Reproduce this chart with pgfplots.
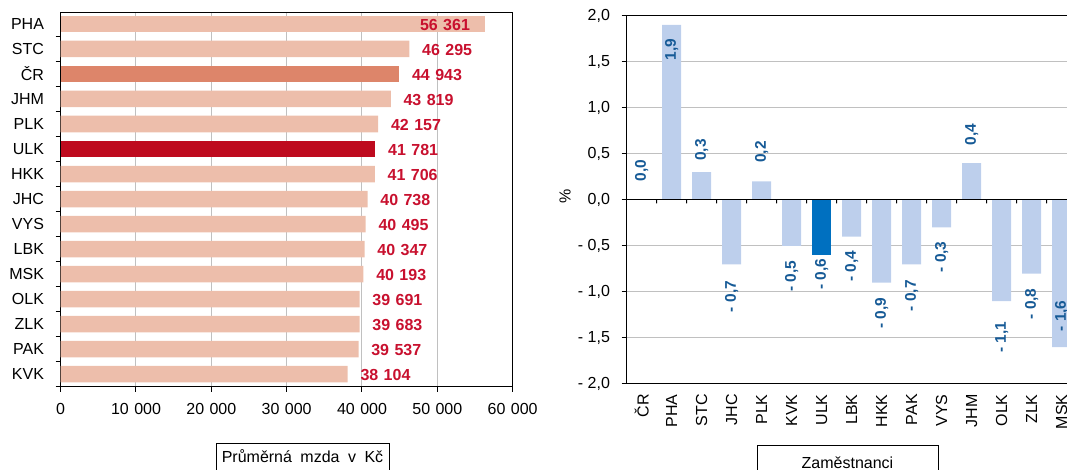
\documentclass[border=0pt]{standalone}
\usepackage{fontspec}
\setmainfont{Liberation Sans}
\usepackage{pgfplots}
\pgfplotsset{compat=1.18}

\definecolor{barlight}{RGB}{237,190,171}
\definecolor{barcr}{RGB}{221,133,106}
\definecolor{barulk}{RGB}{190,10,30}
\definecolor{labred}{RGB}{200,16,46}
\definecolor{bluelight}{RGB}{189,207,236}
\definecolor{blueulk}{RGB}{0,112,192}
\definecolor{labblue}{RGB}{22,90,150}
\definecolor{gridgray}{RGB}{192,192,192}

\newcommand{\tf}{\fontsize{12}{14}\selectfont}
\newcommand{\lf}{\fontsize{11.6}{13}\selectfont}
\DeclareRobustCommand{\sep}{\hspace{0.34em}}

\begin{document}
\begin{tikzpicture}
% left: average wage by region
\begin{axis}[
  at={(45.5pt,62.5pt)}, anchor=south west,
  scale only axis, width=339pt, height=280.5pt,
  xmin=0, xmax=60000, ymin=-0.45, ymax=14.5, y dir=reverse,
  scaled x ticks=false,
  xtick={0,10000,...,60000},
  xticklabels={0,10\sep000,20\sep000,30\sep000,40\sep000,50\sep000,60\sep000},
  ytick={0,...,14},
  yticklabels={PHA,STC,ČR,JHM,PLK,ULK,HKK,JHC,VYS,LBK,MSK,OLK,ZLK,PAK,KVK},
  minor ytick={-0.5,0.5,...,14.5},
  xtick pos=bottom, ytick pos=left,
  tick align=outside,
  major tick length=3.75pt, minor tick length=3.75pt,
  major y tick style={draw=none},
  tick style={black, line width=0.75pt},
  xmajorgrids, major grid style={gridgray, line width=0.75pt},
  axis line style={black, line width=0.75pt},
  ticklabel style={font=\tf, inner sep=0pt},
  xticklabel shift=8.7pt, yticklabel shift=8.6pt,
  nodes near coords style={font=\bfseries\tf, text=labred, inner sep=0pt, yshift=-1pt},
  barl/.style={xbar, bar width=12.4pt, bar shift=0pt, draw=none},
  labout/.style={point meta=x,
    nodes near coords={\pgfmathprintnumber[assume math mode=true,fixed,precision=0,1000 sep={\sep}]{\pgfplotspointmeta}},
    nodes near coords style={anchor=west, xshift=9.4pt}},
]
\addplot[barl, fill=barlight, labout] coordinates {
  (46295,1) (43819,3) (42157,4) (41706,6) (40738,7) (40495,8) (40347,9)
  (40193,10) (39691,11) (39683,12) (39537,13) (38104,14)
};
\addplot[barl, fill=barlight] coordinates {(56361,0)};
\addplot[barl, fill=barcr, labout] coordinates {(44943,2)};
\addplot[barl, fill=barulk, labout] coordinates {(41781,5)};
% label of the longest bar sits inside its end
\addplot[draw=none, mark=none, nodes near coords, point meta=explicit symbolic,
  nodes near coords style={anchor=center}] coordinates {(51016,0) [{56\sep361}]};
\end{axis}

% right: change in employees, %
\begin{axis}[
  at={(470pt,64.5pt)}, anchor=south west,
  scale only axis, width=337.5pt, height=276.2pt,
  xmin=-0.5, xmax=14.5, ymin=-2, ymax=2,
  ytick={-2,-1.5,...,2},
  yticklabels={{- 2,0},{- 1,5},{- 1,0},{- 0,5},{0,0},{0,5},{1,0},{1,5},{2,0}},
  xtick={0,...,14},
  xticklabels={ČR,PHA,STC,JHC,PLK,KVK,ULK,LBK,HKK,PAK,VYS,JHM,OLK,ZLK,MSK},
  xtick pos=bottom, ytick pos=left,
  tick align=outside, major tick length=3.75pt,
  major x tick style={draw=none},
  tick style={black, line width=0.75pt},
  ymajorgrids, major grid style={gridgray, line width=0.75pt},
  axis line style={black, line width=0.75pt},
  ticklabel style={font=\tf, inner sep=0pt},
  xticklabel style={rotate=90, anchor=east},
  xticklabel shift=3.8pt, yticklabel shift=8.6pt,
  ylabel={\%},
  ylabel style={at={(axis description cs:-0.137,0.51)}, anchor=center, rotate=0, font=\tf},
]
\addplot[ybar, bar width=14.25pt, bar shift=0pt, fill=bluelight, draw=none] coordinates {
  (0,0) (1,1.9) (2,0.3) (3,-0.7) (4,0.2) (5,-0.5) (7,-0.4) (8,-0.9)
  (9,-0.7) (10,-0.3) (11,0.4) (12,-1.1) (13,-0.8) (14,-1.6)
};
\addplot[ybar, bar width=14.25pt, bar shift=0pt, fill=blueulk, draw=none] coordinates {(6,-0.6)};
\addplot[black, line width=0.75pt, mark=none] coordinates {(-0.5,0) (14.5,0)};
% category ticks hang below the zero line
\addplot[ybar, bar width=0.75pt, bar shift=0pt, fill=black, draw=none] coordinates {
  (0.5,-0.037) (1.5,-0.037) (2.5,-0.037) (3.5,-0.037) (4.5,-0.037) (5.5,-0.037) (6.5,-0.037)
  (7.5,-0.037) (8.5,-0.037) (9.5,-0.037) (10.5,-0.037) (11.5,-0.037) (12.5,-0.037) (13.5,-0.037)
};
\addplot[draw=none, mark=none, nodes near coords, point meta=explicit symbolic,
  nodes near coords style={rotate=90, anchor=center, inner sep=0pt, font=\bfseries\lf, text=labblue}]
  coordinates {
  (0,0.32) [{0,0}] (1,1.63) [{1,9}] (2,0.54) [{0,3}] (3,-1.05) [{- 0,7}]
  (4,0.52) [{0,2}] (5,-0.83) [{- 0,5}] (6,-0.81) [{- 0,6}] (7,-0.72) [{- 0,4}]
  (8,-1.23) [{- 0,9}] (9,-1.04) [{- 0,7}] (10,-0.62) [{- 0,3}] (11,0.71) [{0,4}]
  (12,-1.49) [{- 1,1}] (13,-1.13) [{- 0,8}] (14,-1.26) [{- 1,6}]
};
\end{axis}

\draw[black, line width=0.75pt] (162pt,-10pt) rectangle (292pt,19.5pt);
\node[anchor=base, font=\tf, inner sep=0pt] at (226.9pt,5.5pt)
  {Průměrná\hspace{0.53em}mzda\hspace{0.53em}v\hspace{0.53em}Kč};
\draw[black, line width=0.75pt] (568.4pt,-10pt) rectangle (703.7pt,18pt);
\node[anchor=base, font=\tf, inner sep=0pt] at (635.6pt,1.35pt) {Zaměstnanci};

\pgfresetboundingbox
\useasboundingbox (0,0) rectangle (800.25pt,352.5pt);
\end{tikzpicture}
\end{document}
